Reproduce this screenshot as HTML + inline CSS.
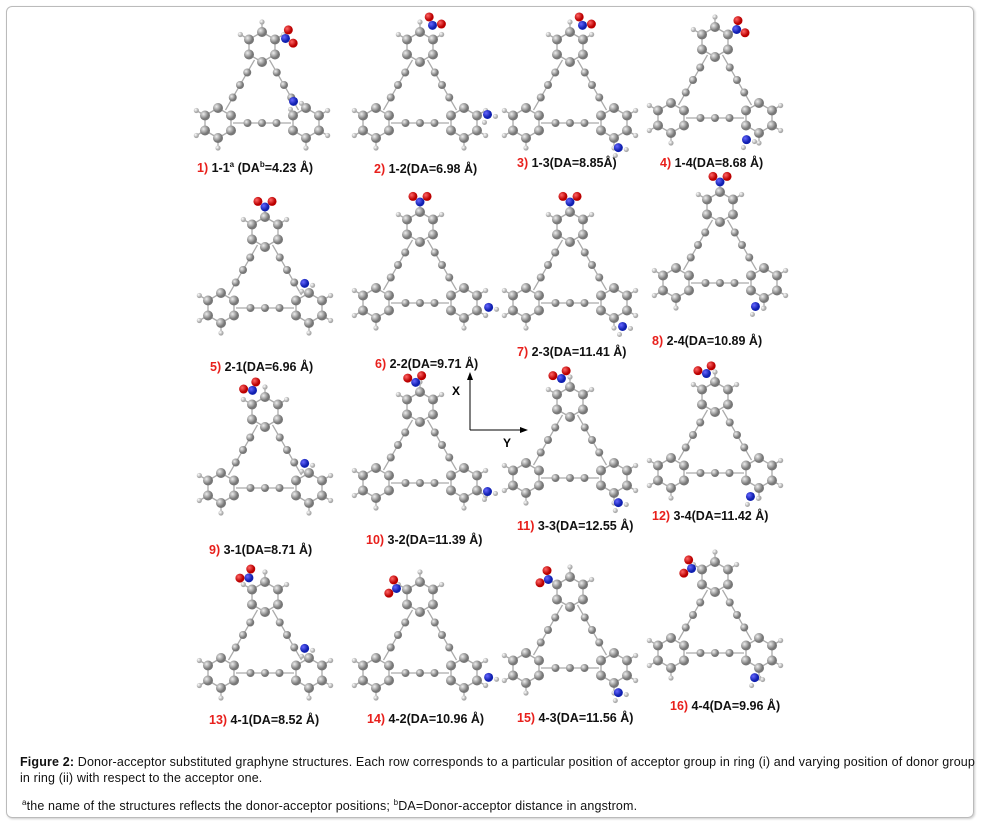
<!DOCTYPE html>
<html><head><meta charset="utf-8"><style>
body{margin:0;width:981px;height:825px;background:#fff;position:relative;font-family:"Liberation Sans",sans-serif;overflow:hidden}
.frame{position:absolute;left:6px;top:6px;width:966px;height:810px;border:1px solid #bbb;border-radius:6px;box-shadow:1px 1px 2px #ccc}
.lb{position:absolute;font-size:12.5px;font-weight:bold;color:#111;white-space:nowrap}
.lb b{color:#e8201c}
.cap{position:absolute;left:20px;font-size:12.5px;color:#111;letter-spacing:0.15px;width:960px;line-height:16px;white-space:nowrap}
svg{position:absolute;left:0;top:0}
</style></head><body>
<div class="frame"></div>
<svg id="s" width="981" height="825">
<defs>
<radialGradient id="gc" cx="35%" cy="35%"><stop offset="0" stop-color="#eee"/><stop offset="1" stop-color="#777"/></radialGradient>
<radialGradient id="gh" cx="35%" cy="35%"><stop offset="0" stop-color="#fff"/><stop offset="1" stop-color="#aaa"/></radialGradient>
<radialGradient id="gn" cx="35%" cy="35%"><stop offset="0" stop-color="#66f"/><stop offset="1" stop-color="#1020b0"/></radialGradient>
<radialGradient id="go" cx="35%" cy="35%"><stop offset="0" stop-color="#f66"/><stop offset="1" stop-color="#b00"/></radialGradient>
</defs>
<line x1="470" y1="430" x2="470" y2="378" stroke="#000"/><polygon points="470,372 467,380 473,380"/>
<line x1="470" y1="430" x2="522" y2="430" stroke="#000"/><polygon points="528,430 520,427 520,433"/>
<text x="452" y="395" font-size="12" font-weight="bold" font-family="Liberation Sans">X</text>
<text x="503" y="447" font-size="12" font-weight="bold" font-family="Liberation Sans">Y</text>
</svg>
<div class="lb" style="left:197px;top:160px"><b>1)</b> 1-1<sup style="font-size:8px">a</sup> (DA<sup style="font-size:8px">b</sup>=4.23 Å)</div>
<div class="lb" style="left:374px;top:162px"><b>2)</b> 1-2(DA=6.98 Å)</div>
<div class="lb" style="left:517px;top:156px"><b>3)</b> 1-3(DA=8.85Å)</div>
<div class="lb" style="left:660px;top:156px"><b>4)</b> 1-4(DA=8.68 Å)</div>
<div class="lb" style="left:210px;top:360px"><b>5)</b> 2-1(DA=6.96 Å)</div>
<div class="lb" style="left:375px;top:357px"><b>6)</b> 2-2(DA=9.71 Å)</div>
<div class="lb" style="left:517px;top:345px"><b>7)</b> 2-3(DA=11.41 Å)</div>
<div class="lb" style="left:652px;top:334px"><b>8)</b> 2-4(DA=10.89 Å)</div>
<div class="lb" style="left:209px;top:543px"><b>9)</b> 3-1(DA=8.71 Å)</div>
<div class="lb" style="left:366px;top:533px"><b>10)</b> 3-2(DA=11.39 Å)</div>
<div class="lb" style="left:517px;top:519px"><b>11)</b> 3-3(DA=12.55 Å)</div>
<div class="lb" style="left:652px;top:509px"><b>12)</b> 3-4(DA=11.42 Å)</div>
<div class="lb" style="left:209px;top:713px"><b>13)</b> 4-1(DA=8.52 Å)</div>
<div class="lb" style="left:367px;top:712px"><b>14)</b> 4-2(DA=10.96 Å)</div>
<div class="lb" style="left:517px;top:711px"><b>15)</b> 4-3(DA=11.56 Å)</div>
<div class="lb" style="left:670px;top:699px"><b>16)</b> 4-4(DA=9.96 Å)</div>
<div class="cap" style="top:754px"><b>Figure 2:</b> Donor-acceptor substituted graphyne structures. Each row corresponds to a particular position of acceptor group in ring (i) and varying position of donor group<br>in ring (ii) with respect to the acceptor one.</div>
<div class="cap" style="top:795px;left:22px"><sup style="font-size:8px">a</sup>the name of the structures reflects the donor-acceptor positions; <sup style="font-size:8px">b</sup>DA=Donor-acceptor distance in angstrom.</div>
<script>
var s=document.getElementById('s'),NS='http://www.w3.org/2000/svg';
function el(t,a){var e=document.createElementNS(NS,t);for(var k in a)e.setAttribute(k,a[k]);s.appendChild(e);return e}
function at(x,y,r,g){el('circle',{cx:x,cy:y,r:r,fill:'url(#'+g+')'})}
function bond(a,b,c,d){el('line',{x1:a,y1:b,x2:c,y2:d,stroke:'#aaa','stroke-width':1.3})}
function mol(cx,cy,ta,ba){
 var R=[[cx,cy-48],[cx-44,cy+28],[cx+44,cy+28]],r=15;
 for(var i=0;i<3;i++)for(var j=i+1;j<3;j++){var a=R[i],b=R[j],dx=b[0]-a[0],dy=b[1]-a[1],L=Math.hypot(dx,dy);
  var t0=r/L,t1=1-r/L;
  bond(a[0]+dx*t0,a[1]+dy*t0,a[0]+dx*t1,a[1]+dy*t1);
  for(var k=1;k<=3;k++){var t=(r+(L-2*r)*k/4)/L;at(a[0]+dx*t,a[1]+dy*t,4,'gc')}}
 R.forEach(function(c){
  for(var k=0;k<6;k++){var an=Math.PI/3*k+Math.PI/6;var x=c[0]+r*Math.cos(an),y=c[1]+r*Math.sin(an);
   var x2=c[0]+r*Math.cos(an+Math.PI/3),y2=c[1]+r*Math.sin(an+Math.PI/3);bond(x,y,x2,y2);
   var ox=c[0]-cx,oy=c[1]-cy,dot=(Math.cos(an)*ox+Math.sin(an)*oy)/Math.hypot(ox,oy);
   if(dot>0.1){var hx=c[0]+(r+10)*Math.cos(an),hy=c[1]+(r+10)*Math.sin(an);bond(x,y,hx,hy);at(hx,hy,2.6,'gh')}}
 });
 R.forEach(function(c){for(var k=0;k<6;k++){var an=Math.PI/3*k+Math.PI/6;at(c[0]+r*Math.cos(an),c[1]+r*Math.sin(an),5,'gc')}});
 var a=ta*Math.PI/180,nx=R[0][0]+(r+10)*Math.cos(a),ny=R[0][1]+(r+10)*Math.sin(a);
 at(nx,ny,4.5,'gn');at(nx+9*Math.cos(a-0.9),ny+9*Math.sin(a-0.9),4.5,'go');at(nx+9*Math.cos(a+0.9),ny+9*Math.sin(a+0.9),4.5,'go');
 var b=ba*Math.PI/180,mx=R[2][0]+(r+10)*Math.cos(b),my=R[2][1]+(r+10)*Math.sin(b);
 at(mx,my,4.5,'gn');at(mx+8,my+2,2.5,'gh');at(mx-3,my+8,2.5,'gh');
}
var M=[[262,95,-20,-120],[420,95,-60,-20],[570,95,-60,80],[715,90,-30,120],
[265,280,-90,-100],[420,275,-90,10],[570,275,-90,70],[720,255,-90,110],
[265,460,-120,-100],[420,455,-100,20],[570,450,-110,80],[715,445,-110,110],
[265,645,-130,-100],[420,645,-160,10],[570,640,-150,80],[715,625,-160,100]];
M.forEach(function(m){mol(m[0],m[1],m[2],m[3])});
</script>
</body></html>
